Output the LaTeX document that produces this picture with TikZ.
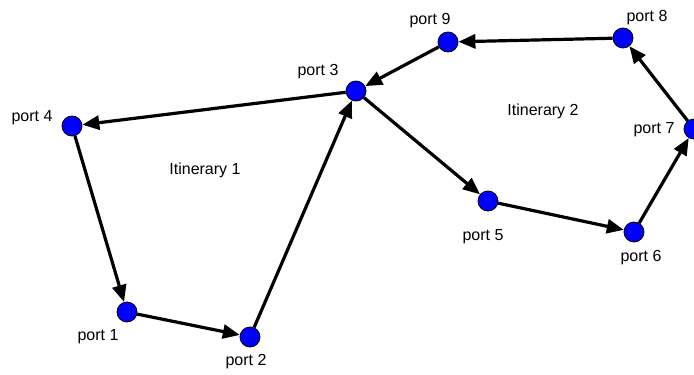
\documentclass[tikz,border=0pt]{standalone}
\usepackage{fontspec}
\setmainfont{Liberation Sans}
\usetikzlibrary{arrows.meta}
\begin{document}
\begin{tikzpicture}[x=1pt,y=-1pt,
  port/.style={circle,draw=black,line width=0.8pt,fill=blue,minimum size=20pt,inner sep=0pt},
  lbl/.style={font=\fontsize{16}{19}\selectfont,inner sep=0pt},
  hop/.style={line width=3.2pt,-{Triangle[length=17pt,width=14pt]}}]
\useasboundingbox (0,0) rectangle (694,375);
\node[port] (p4) at (72,126) {};
\node[port] (p1) at (127,312) {};
\node[port] (p2) at (250,337) {};
\node[port] (p3) at (356,91) {};
\node[port] (p9) at (448,42) {};
\node[port] (p8) at (623,38) {};
\node[port] (p7) at (694,129) {};
\node[port] (p6) at (634,232) {};
\node[port] (p5) at (488,201) {};
\node[lbl] (l4) at (32,118) {port 4};
\node[lbl] (l1) at (98,337) {port 1};
\node[lbl] (l2) at (246,362) {port 2};
\node[lbl] (l3) at (318,72) {port 3};
\node[lbl] (l9) at (430,21) {port 9};
\node[lbl] (l8) at (647,18) {port 8};
\node[lbl] (l7) at (654,130) {port 7};
\node[lbl] (l6) at (641,258) {port 6};
\node[lbl] (l5) at (483,237) {port 5};
\node[lbl] (i1) at (205,170) {Itinerary 1};
\node[lbl] (i2) at (543,111) {Itinerary 2};
\draw[hop] (p4) -- (p1);
\draw[hop] (p1) -- (p2);
\draw[hop] (p2) -- (p3);
\draw[hop] (p3) -- (p4);
\draw[hop] (p3) -- (p5);
\draw[hop] (p5) -- (p6);
\draw[hop] (p6) -- (p7);
\draw[hop] (p7) -- (p8);
\draw[hop] (p8) -- (p9);
\draw[hop] (p9) -- (p3);
\end{tikzpicture}
\end{document}
